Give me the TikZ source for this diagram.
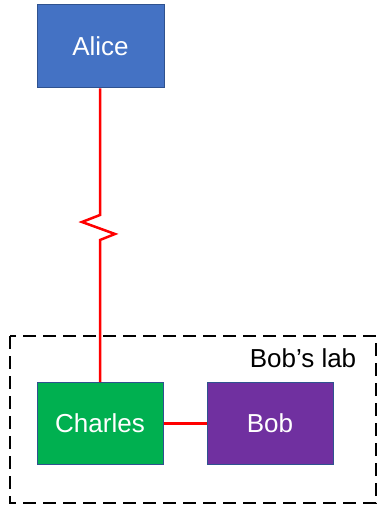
\documentclass[tikz,border=0pt]{standalone}
\usepackage{fontspec}
\setmainfont{Liberation Sans}
\definecolor{aliceblue}{HTML}{4472C4}
\definecolor{charlesgreen}{HTML}{00B050}
\definecolor{bobpurple}{HTML}{7030A0}
\definecolor{edgeblue}{HTML}{2F528F}
\tikzset{
  party/.style={draw=edgeblue, line width=1pt, text=white, font=\fontsize{26}{30}\selectfont,
    inner sep=0pt, minimum width=126pt, minimum height=82pt},
  link/.style={draw=red, line width=2.5pt},
  labbox/.style={draw=black, line width=2.5pt, dash pattern=on 13pt off 7pt},
}
\begin{document}
\begin{tikzpicture}[x=1pt,y=-1pt]
  \useasboundingbox (0,0) rectangle (378,508);
  % the lab boundary and its title
  \draw[labbox] (10,336) rectangle (376,503);
  \node[font=\fontsize{26}{30}\selectfont, anchor=base] (labname) at (303,367) {Bob’s lab};
  % parties
  \node[party, fill=aliceblue, minimum width=127pt, minimum height=83pt] (alice) at (100.5,46.5) {Alice};
  \node[party, fill=charlesgreen] (charles) at (100,423.5) {Charles};
  \node[party, fill=bobpurple] (bob) at (270,423.5) {Bob};
  % long-distance link with a break mark
  \coordinate (z1) at (100,215);
  \coordinate (z2) at (82,222);
  \coordinate (z3) at (115,234);
  \coordinate (z4) at (100,240);
  \draw[link, line join=miter] (alice.south -| z1) -- (z1) -- (z2) -- (z3) -- (z4) -- (charles.north -| z4);
  % local link
  \draw[link] (charles.east) -- (bob.west);
\end{tikzpicture}
\end{document}
